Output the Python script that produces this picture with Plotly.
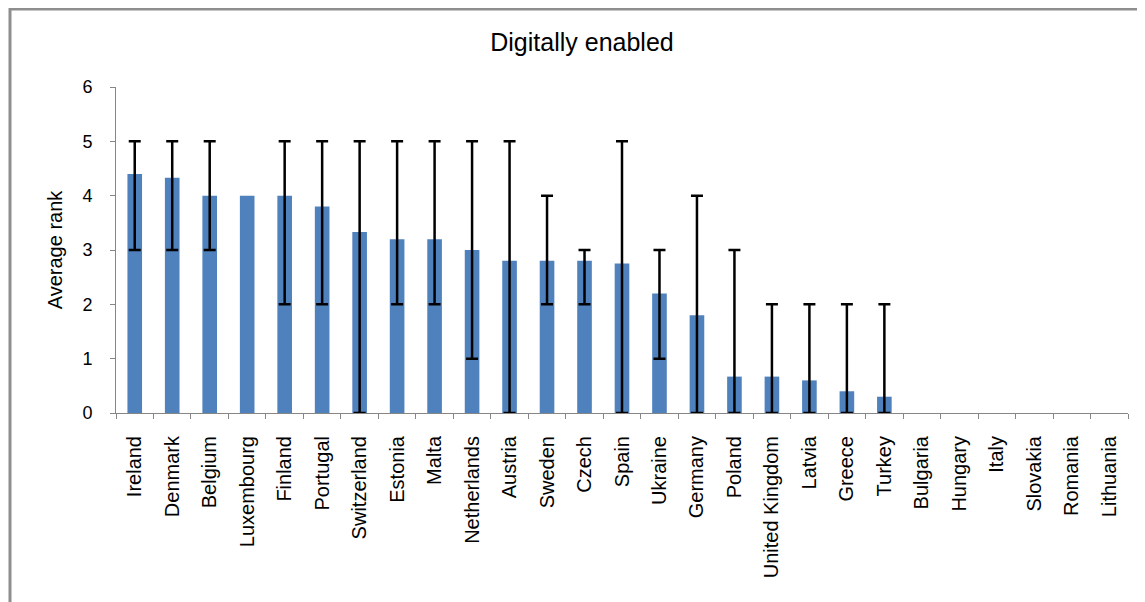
import plotly.graph_objects as go

countries = ["Ireland", "Denmark", "Belgium", "Luxembourg", "Finland", "Portugal",
             "Switzerland", "Estonia", "Malta", "Netherlands", "Austria", "Sweden",
             "Czech", "Spain", "Ukraine", "Germany", "Poland", "United Kingdom",
             "Latvia", "Greece", "Turkey", "Bulgaria", "Hungary", "Italy",
             "Slovakia", "Romania", "Lithuania"]
avg_rank = [4.4, 4.33, 4.0, 4.0, 4.0, 3.8, 3.33, 3.2, 3.2, 3.0, 2.8, 2.8,
            2.8, 2.75, 2.2, 1.8, 0.67, 0.67, 0.6, 0.4, 0.3, 0, 0, 0, 0, 0, 0]
min_rank = [3, 3, 3, 4, 2, 2, 0, 2, 2, 1, 0, 2, 2, 0, 1, 0, 0, 0, 0, 0, 0,
            0, 0, 0, 0, 0, 0]
max_rank = [5, 5, 5, 4, 5, 5, 5, 5, 5, 5, 5, 4, 3, 5, 3, 4, 3, 2, 2, 2, 2,
            0, 0, 0, 0, 0, 0]
y_ticks = [0, 1, 2, 3, 4, 5, 6]

# only countries whose min/max range is non-empty get a range bar
rng = [(c, m, mn, mx) for c, m, mn, mx in zip(countries, avg_rank, min_rank, max_rank) if mx != mn]
rx = [r[0] for r in rng]
ry = [r[1] for r in rng]
r_plus = [r[3] - r[1] for r in rng]
r_minus = [r[1] - r[2] for r in rng]

FONT = "Liberation Sans, Arial, sans-serif"
OFF = 8  # page body margin
W, H = 1145 - OFF, 602 - OFF
L, R, T, B = 116 - OFF, 17, 87 - OFF, 189
pw = W - L - R
ph = H - T - B

fig = go.Figure()
fig.add_trace(go.Bar(
    x=countries, y=avg_rank,
    marker=dict(color="#4F81BD", line=dict(width=0)),
))
fig.add_trace(go.Scatter(
    x=rx, y=ry, mode="markers",
    marker=dict(size=1, opacity=0),
    error_y=dict(type="data", symmetric=False, array=r_plus, arrayminus=r_minus,
                 color="black", thickness=2.5, width=6),
    hoverinfo="skip",
))

# chart-area border (top and left visible)
bx0 = (8 - OFF - L) / pw
by1 = (H - B - (7 - OFF)) / ph
fig.add_shape(type="rect", xref="paper", yref="paper", x0=bx0 + 2 / pw, x1=1.2, y0=-2, y1=by1 - 2 / ph,
              line=dict(color="#8e8e8e", width=3), fillcolor="rgba(0,0,0,0)", layer="below")

fig.update_layout(
    width=W, height=H,
    margin=dict(l=L, r=R, t=T, b=B),
    paper_bgcolor="white", plot_bgcolor="white",
    bargap=0.61,
    showlegend=False,
    font=dict(family=FONT, color="black"),
    title=dict(text="Digitally enabled", x=(582 - OFF) / W, xanchor="center", xref="container",
               y=1 - (42 - OFF) / H, yanchor="middle", yref="container",
               font=dict(size=25, family=FONT, color="black")),
    xaxis=dict(type="category", categoryorder="array", categoryarray=countries,
               tickangle=-90, tickfont=dict(size=20, family=FONT),
               showline=True, linecolor="#868686", linewidth=1,
               ticks="outside", ticklen=5, tickcolor="#868686", tickson="boundaries",
               ticklabelstandoff=14, showgrid=False, zeroline=False,
               range=[-0.5, len(countries) - 0.5]),
    yaxis=dict(range=[0, 6], tickvals=y_ticks, tickfont=dict(size=18, family=FONT),
               showline=True, linecolor="#868686", linewidth=1,
               ticks="outside", ticklen=5, tickcolor="#868686",
               ticklabelstandoff=14, showgrid=False, zeroline=False,
               title=dict(text="Average rank", font=dict(size=20, family=FONT), standoff=14)),
)

fig.write_html("out.html")
